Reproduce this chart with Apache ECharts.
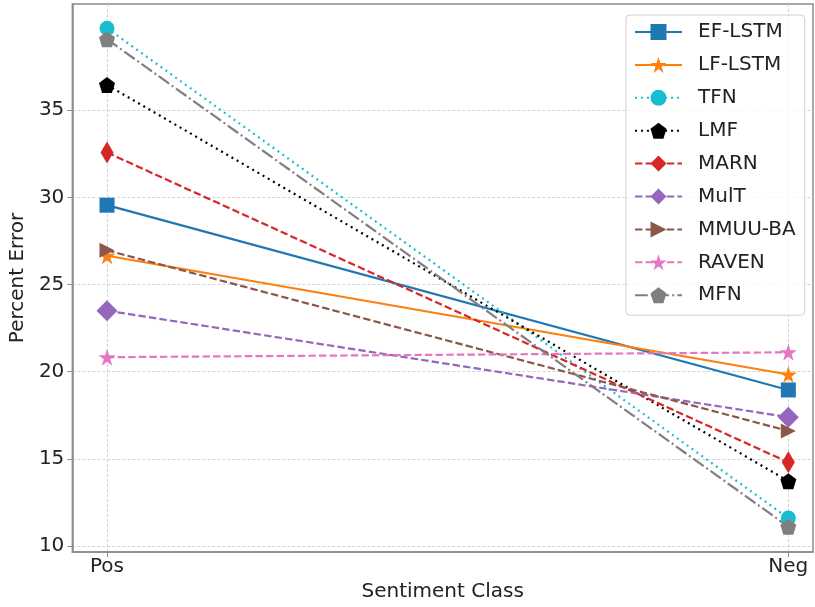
<!DOCTYPE html>
<html>
<head>
<meta charset="utf-8">
<script src="https://cdn.jsdelivr.net/npm/echarts@6/dist/echarts.min.js"></script>
<style>html,body{margin:0;padding:0;background:#fff}#chart{width:815px;height:607px}</style>
</head>
<body>
<div id="chart"></div>
<script>
const categories = ['Pos', 'Neg'];
const yTicks = [10, 15, 20, 25, 30, 35];
const seriesNames = ['EF-LSTM', 'LF-LSTM', 'TFN', 'LMF', 'MARN', 'MulT', 'MMUU-BA', 'RAVEN', 'MFN'];
const efLstm = [29.55, 18.95];
const lfLstm = [26.65, 19.84];
const tfn = [39.7, 11.6];
const lmf = [36.45, 13.72];
const marn = [32.57, 14.8];
const mult = [23.5, 17.39];
const mmuuBa = [26.96, 16.6];
const raven = [20.83, 21.11];
const mfn = [39.07, 11.11];

const STAR = 'path://M0,-1 L0.2245,-0.309 L0.951,-0.309 L0.363,0.118 L0.588,0.809 L0,0.382 L-0.588,0.809 L-0.363,0.118 L-0.951,-0.309 L-0.2245,-0.309 Z';
const PENT = 'path://M0,-1 L0.951,-0.309 L0.588,0.809 L-0.588,0.809 L-0.951,-0.309 Z';
const TRI_R = 'path://M-1,-1 L1,0 L-1,1 Z';

const styles = [
  {data: efLstm, color: '#1f77b4', type: 'solid', symbol: 'rect', size: 15},
  {data: lfLstm, color: '#ff7f0e', type: 'solid', symbol: STAR, size: 17},
  {data: tfn, color: '#17becf', type: [2, 4], symbol: 'circle', size: 15},
  {data: lmf, color: '#000000', type: [2, 4], symbol: PENT, size: 16},
  {data: marn, color: '#d62728', type: [7.4, 3.2], symbol: 'diamond', size: [13, 22]},
  {data: mult, color: '#9467bd', type: [7.4, 3.2], symbol: 'diamond', size: [21, 21]},
  {data: mmuuBa, color: '#8c564b', type: [7.4, 3.2], symbol: TRI_R, size: [15, 15]},
  {data: raven, color: '#e377c2', type: [7.4, 3.2], symbol: STAR, size: 17},
  {data: mfn, color: '#7f7f7f', type: [12.8, 3.2, 2, 3.2], symbol: PENT, size: 16}
];

const series = seriesNames.map((name, i) => {
  const s = styles[i];
  return {
    name: name,
    type: 'line',
    data: s.data.map((v, j) => [j, v]),
    symbol: s.symbol,
    symbolSize: s.size,
    showAllSymbol: true,
    itemStyle: {color: s.color},
    lineStyle: {color: s.color, width: 2.2, type: s.type},
    emphasis: {disabled: true},
    animation: false
  };
});

const chart = echarts.init(document.getElementById('chart'));
chart.setOption({
  animation: false,
  backgroundColor: '#fff',
  grid: {left: 72, top: 4, right: 2, bottom: 54.3, show: true, borderColor: '#8a8a8a', borderWidth: 1.5, backgroundColor: 'transparent'},
  xAxis: {
    type: 'value',
    min: -0.0509,
    max: 1.0362,
    name: 'Sentiment Class',
    nameLocation: 'middle',
    nameGap: 30,
    nameTextStyle: {fontFamily: 'DejaVu Sans', fontSize: 20, color: '#222'},
    axisLine: {show: true, onZero: false, lineStyle: {color: '#8a8a8a', width: 1.5}},
    axisTick: {show: true, length: 5, customValues: [0, 1], lineStyle: {color: '#8a8a8a'}},
    axisLabel: {customValues: [0, 1], margin: 5, fontFamily: 'DejaVu Sans', fontSize: 20, color: '#222',
      formatter: v => categories[Math.round(v)] || ''},
    splitLine: {show: true, customValues: [0, 1], lineStyle: {color: '#c8c8c8', type: [3, 2], width: 0.8}}
  },
  yAxis: {
    type: 'value',
    min: 9.656,
    max: 41.09,
    name: 'Percent Error',
    nameLocation: 'middle',
    nameGap: 37,
    nameTextStyle: {fontFamily: 'DejaVu Sans', fontSize: 20, color: '#222'},
    axisLine: {show: true, onZero: false, lineStyle: {color: '#8a8a8a', width: 1.5}},
    axisTick: {show: true, length: 5, customValues: yTicks, lineStyle: {color: '#8a8a8a'}},
    axisLabel: {customValues: yTicks, margin: 8, fontFamily: 'DejaVu Sans', fontSize: 20, color: '#222'},
    splitLine: {show: true, customValues: yTicks, lineStyle: {color: '#c8c8c8', type: [3, 2], width: 0.8}}
  },
  legend: {
    orient: 'vertical',
    left: 626,
    top: 15,
    itemWidth: 47,
    itemHeight: 20,
    itemGap: 12.9,
    padding: [7, 9, 10, 8],
    borderColor: '#d0d0d0',
    borderWidth: 1,
    borderRadius: 4,
    backgroundColor: 'rgba(255,255,255,0.8)',
    textStyle: {fontFamily: 'DejaVu Sans', fontSize: 20, color: '#222', padding: [0, 0, 0, 11]},
    data: seriesNames
  },
  series: series
});
</script>
</body>
</html>
